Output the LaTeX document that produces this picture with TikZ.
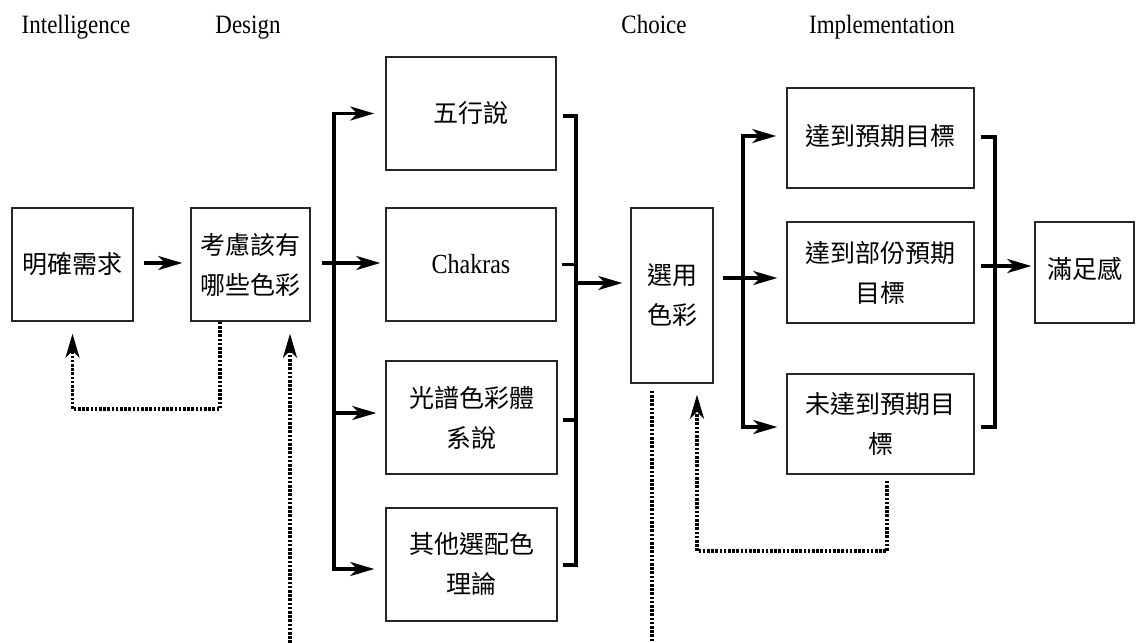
\documentclass[tikz,border=0pt]{standalone}
\usepackage{fontspec}
\setmainfont{Liberation Serif}
\newfontfamily\cjk{Noto Sans CJK TC}
\usetikzlibrary{arrows.meta}
\tikzset{
  >={Stealth[length=24pt,width=14pt,inset=7pt]},
  box/.style={draw=black!85,line width=1.4pt,inner sep=0pt,align=center,
    font=\cjk\fontsize{25}{40}\selectfont},
  hdr/.style={anchor=base,inner sep=0pt,font=\fontsize{23}{23}\selectfont},
  conn/.style={line width=3.2pt,draw=black},
  arr/.style={conn,->},
  dotline/.style={line width=3.2pt,draw=black,dash pattern=on 2.6pt off 1.6pt},
  dotarr/.style={dotline,->}}
\begin{document}
\begin{tikzpicture}[x=1pt,y=-1pt]
\useasboundingbox[fill=white] (0,0) rectangle (1136,643);

% headers
\node[hdr] (h1) at (76,33) {\scalebox{1}[1.15]{Intelligence}};
\node[hdr] (h2) at (248,33) {\scalebox{1}[1.15]{Design}};
\node[hdr] (h3) at (654,33) {\scalebox{1}[1.15]{Choice}};
\node[hdr] (h4) at (882,33) {\scalebox{1}[1.15]{Implementation}};

% boxes
\node[box,minimum width=121pt,minimum height=113pt] (n1) at (72.5,264.5) {明確需求};
\node[box,minimum width=119pt,minimum height=113pt] (n2) at (250.5,264.5) {考慮該有\\哪些色彩};
\node[box,minimum width=170pt,minimum height=113pt] (c1) at (471,113.5) {五行說};
\node[box,minimum width=170pt,minimum height=113pt,font=\fontsize{24}{24}\selectfont] (c2) at (471,264.5) {\scalebox{1}[1.15]{Chakras}};
\node[box,minimum width=171pt,minimum height=113pt] (c3) at (471.5,417.5) {\raisebox{4pt}{\parbox{160pt}{\centering 光譜色彩體\\系說}}};
\node[box,minimum width=171pt,minimum height=113pt] (c4) at (471.5,564.5) {\raisebox{-2pt}{\parbox{160pt}{\centering 其他選配色\\理論}}};
\node[box,minimum width=82pt,minimum height=175pt] (ch) at (672,295.5) {\raisebox{9pt}{\parbox{70pt}{\centering 選用\\色彩}}};
\node[box,minimum width=187pt,minimum height=100pt] (r1) at (880.5,138) {\raisebox{6pt}{達到預期目標}};
\node[box,minimum width=187pt,minimum height=101pt] (r2) at (880.5,272.5) {\raisebox{3pt}{\parbox{175pt}{\centering 達到部份預期\\目標}}};
\node[box,minimum width=187pt,minimum height=100pt] (r3) at (880.5,424) {\raisebox{-2pt}{\parbox{175pt}{\centering 未達到預期目\\標}}};
\node[box,minimum width=99pt,minimum height=101pt] (s) at (1084.5,272.5) {\raisebox{9pt}{滿足感}};

% split coordinates
\coordinate (spl) at (334,0);
\coordinate (spr) at (576,0);
\coordinate (spl2) at (743,0);
\coordinate (spr2) at (995,0);

% n1 -> n2
\draw[arr,shorten <=10pt,shorten >=8pt] ([yshift=1.5pt]n1.east) -- ([yshift=1.5pt]n2.east -| n2.west);
% n2 -> split
\draw[conn] ([xshift=11pt,yshift=1.5pt]n2.east) -- ([yshift=1.5pt]spl |- n2.east);
\draw[arr,shorten >=11pt] ([yshift=-4.5pt]spl |- c4.west) -- (spl |- c1.west) -- (c1.west);
\draw[arr,shorten >=5pt] ([yshift=1.5pt]spl |- c2.west) -- ([yshift=1.5pt]c2.west);
\draw[arr,shorten >=9pt] ([yshift=4.5pt]spl |- c3.west) -- ([yshift=4.5pt]c3.west);
\draw[arr,shorten >=11pt] ([xshift=-1.6pt,yshift=-4.5pt]spl |- c4.west) -- ([yshift=-4.5pt]c4.west);

% collector of columns
\draw[conn] ([xshift=6pt,yshift=-2.5pt]c1.east) -- ([yshift=-2.5pt]spr |- c1.east) -- ([yshift=-0.5pt]spr |- c4.east) -- ([xshift=5pt,yshift=-0.5pt]c4.east);
\draw[conn] ([xshift=5pt]c2.east) -- (spr |- c2.east);
\draw[conn] ([xshift=5pt,yshift=-2.5pt]c3.east) -- ([yshift=-2.5pt]spr |- c3.east);
\draw[arr,shorten >=8pt] ([yshift=12.5pt]spr |- ch.west) -- ([yshift=12.5pt]ch.west);

% ch -> results
\draw[arr,shorten <=9pt,shorten >=9pt] ([yshift=-5.5pt]r2.west -| ch.east) -- ([yshift=-5.5pt]r2.west);
\draw[arr,shorten >=10pt] ([yshift=-3pt]spl2 |- r3.west) -- ([yshift=2pt]spl2 |- r1.west) -- ([yshift=2pt]r1.west);
\draw[arr,shorten >=9pt] ([xshift=-1.6pt,yshift=-3pt]spl2 |- r3.west) -- ([yshift=-3pt]r3.west);

% collector of results
\draw[conn] ([xshift=6pt,yshift=1pt]r1.east) -- ([yshift=1pt]spr2 |- r1.east) -- ([yshift=-3pt]spr2 |- r3.east) -- ([xshift=6pt,yshift=-3pt]r3.east);
\draw[arr,shorten >=3pt] ([xshift=6pt,yshift=6.5pt]r2.east) -- ([yshift=6.5pt]s.west);

% dotted feedback
\coordinate (fb1) at (72.5,409);
\coordinate (b1) at (290,643);
\coordinate (b2) at (652,643);
\coordinate (fb2) at (697,551);
\draw[dotarr,shorten >=12pt] ([xshift=-30.5pt]n2.south) |- (fb1) -- (n1.south);
\draw[dotarr,shorten >=12pt] (b1) -- (b1 |- n2.south);
\draw[dotline,shorten <=7pt] ([xshift=-20pt]ch.south) -- (b2);
\draw[dotarr,shorten <=6pt,shorten >=11pt] ([xshift=6.5pt]r3.south) |- (fb2) -- (fb2 |- ch.south);
\end{tikzpicture}
\end{document}
